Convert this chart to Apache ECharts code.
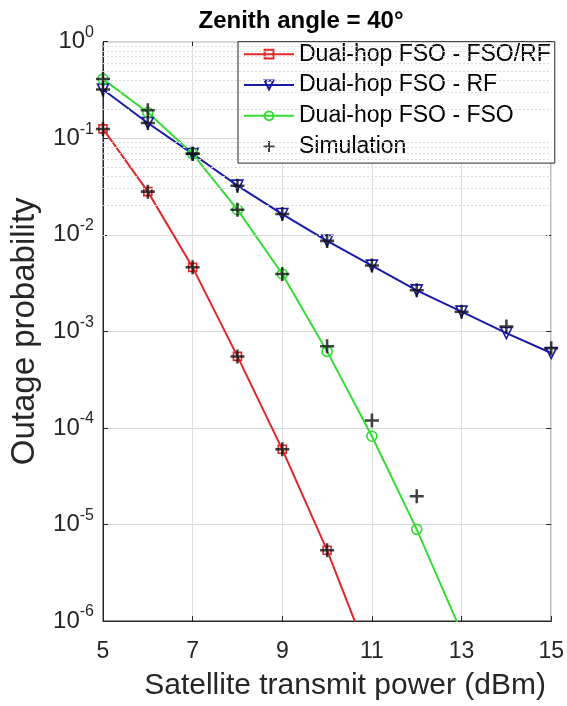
<!DOCTYPE html>
<html><head><meta charset="utf-8">
<script src="https://cdn.jsdelivr.net/npm/echarts@6/dist/echarts.min.js"></script>
<style>html,body{margin:0;padding:0;background:#fff}#c{width:567px;height:706px}</style>
</head><body><div id="c"></div>
<script>
// ---- data ----
const xTicks = [5, 7, 9, 11, 13, 15];
const yTicks = [1e-6, 1e-5, 1e-4, 1e-3, 1e-2, 1e-1, 1];
const seriesNames = ['Dual-hop FSO - FSO/RF', 'Dual-hop FSO - RF', 'Dual-hop FSO - FSO', 'Simulation'];

const xFsoRf = [5, 6, 7, 8, 9, 10, 11];
const yFsoRf = [0.125, 0.028, 0.0046, 0.00055, 6.0e-5, 5.4e-6, 3.5e-7];

const xRf = [5, 6, 7, 8, 9, 10, 11, 12, 13, 14, 15];
const yRf = [0.32, 0.144, 0.069, 0.0323, 0.0164, 0.00865, 0.0048, 0.00266, 0.0016, 0.00096, 0.000597];

const xFso = [5, 6, 7, 8, 9, 10, 11, 12, 13];
const yFso = [0.41, 0.185, 0.069, 0.0182, 0.00393, 6.2e-4, 8.2e-5, 8.9e-6, 7.6e-7];

const xSimFsoRf = [5, 6, 7, 8, 9, 10];
const ySimFsoRf = [0.125, 0.028, 0.0046, 0.00055, 6.0e-5, 5.4e-6];
const xSimRf = [5, 6, 7, 8, 9, 10, 11, 12, 13, 14, 15];
const ySimRf = [0.32, 0.144, 0.069, 0.0323, 0.0164, 0.00865, 0.0048, 0.00266, 0.0016, 0.00112, 0.00067];
const xSimFso = [5, 6, 7, 8, 9, 10, 11, 12];
const ySimFso = [0.41, 0.195, 0.069, 0.0182, 0.00393, 7.0e-4, 1.19e-4, 1.96e-5];

// ---- helpers ----
const zip = (xs, ys) => xs.map((x, i) => [x, ys[i]]);
const minorLines = [];
for (let i = 0; i < yTicks.length - 1; i++) {
  for (let m = 2; m <= 9; m++) minorLines.push({ yAxis: yTicks[i] * m });
}
const FONT = '"Liberation Sans", Arial, Helvetica, sans-serif';
const AX = '#262626';
const RED = '#e0282a', BLUE = '#1a1aa8', GREEN = '#35dc35';
const PLUS = 'path://M4.1,0H5.9V4.1H10V5.9H5.9V10H4.1V5.9H0V4.1H4.1Z';

const chart = echarts.init(document.getElementById('c'), null, { renderer: 'canvas' });

function lineSeries(name, xs, ys, color, symbol, size, rotate) {
  return {
    name, type: 'line', data: zip(xs, ys), clip: true,
    symbol, symbolSize: size, symbolRotate: rotate || 0,
    showAllSymbol: true,
    lineStyle: { color, width: 2 },
    itemStyle: { color: 'rgba(0,0,0,0)', borderColor: color, borderWidth: 1.6 },
    emphasis: { disabled: true }, z: 3
  };
}
function simSeries(xs, ys) {
  return {
    name: 'Simulation', type: 'scatter', data: zip(xs, ys), clip: true,
    symbol: PLUS, symbolSize: 14, symbolKeepAspect: true,
    itemStyle: { color: '#111' }, emphasis: { disabled: true }, z: 5
  };
}

const supLabel = v => {
  const e = Math.round(Math.log10(v));
  return '{b|10}{s|' + e + '}';
};

chart.setOption({
  animation: false,
  backgroundColor: '#fff',
  textStyle: { fontFamily: FONT },
  title: {
    text: 'Zenith angle = 40\u00b0',
    left: 296, top: 4, textAlign: 'center',
    textStyle: { fontFamily: FONT, fontSize: 24, fontWeight: 'bold', color: '#000' }
  },
  grid: {
    left: 101.7, right: 12.4, top: 41.7, bottom: 78,
    show: true, borderColor: AX, borderWidth: 1, backgroundColor: 'rgba(0,0,0,0)'
  },
  legend: {
    data: seriesNames,
    orient: 'vertical',
    left: 238, top: 41.7,
    padding: [1, 4, 5, 5],
    itemWidth: 50, itemHeight: 11, itemGap: 7.8,
    backgroundColor: '#fff', borderColor: AX, borderWidth: 1,
    textStyle: { fontFamily: FONT, fontSize: 23, color: '#000', lineHeight: 22 },
    selectedMode: false
  },
  xAxis: [{
    type: 'value', min: 5, max: 15, interval: 2,
    name: 'Satellite transmit power (dBm)', nameLocation: 'middle', nameGap: 50,
    nameTextStyle: { fontFamily: FONT, fontSize: 30, color: '#262626', padding: [0, 0, 0, 36] },
    axisLine: { show: true, lineStyle: { color: AX, width: 1 } },
    axisTick: { show: true, inside: true, length: 5, lineStyle: { color: AX } },
    axisLabel: { fontFamily: FONT, fontSize: 23, color: '#262626', margin: 19,
      customValues: xTicks, formatter: v => String(v) },
    splitLine: { show: true, lineStyle: { color: '#dedede', width: 1 } }
  }, {
    type: 'value', min: 5, max: 15, interval: 2, position: 'top',
    axisLine: { show: false },
    axisTick: { show: true, inside: true, length: 5, lineStyle: { color: AX } },
    axisLabel: { show: false }, splitLine: { show: false }
  }],
  yAxis: [{
    type: 'log', logBase: 10, min: 1e-6, max: 1, splitNumber: 6,
    name: 'Outage probability', nameLocation: 'middle', nameGap: 62,
    nameTextStyle: { fontFamily: FONT, fontSize: 33, color: '#262626' },
    axisLine: { show: true, lineStyle: { color: AX, width: 1 } },
    axisTick: { show: true, inside: true, length: 5, lineStyle: { color: AX } },
    axisLabel: {
      margin: 9, formatter: supLabel, color: '#262626',
      rich: {
        b: { fontFamily: FONT, fontSize: 24, color: '#262626', lineHeight: 34 },
        s: { fontFamily: FONT, fontSize: 16, color: '#262626', verticalAlign: 'top' }
      }
    },
    splitLine: { show: true, lineStyle: { color: '#d6d6d6', width: 1 } }
  }, {
    type: 'log', logBase: 10, min: 1e-6, max: 1, splitNumber: 6, position: 'right',
    axisLine: { show: false },
    axisTick: { show: true, inside: true, length: 5, lineStyle: { color: AX } },
    axisLabel: { show: false }, splitLine: { show: false }
  }],
  series: [
    {
      name: 'minor', type: 'line', data: [], silent: true,
      markLine: {
        silent: true, symbol: 'none', animation: false,
        label: { show: false },
        lineStyle: { color: '#dcdcdc', type: [2, 2], width: 1 },
        emphasis: { disabled: true },
        data: minorLines
      }, z: 1
    },
    lineSeries(seriesNames[0], xFsoRf, yFsoRf, RED, 'rect', 8),
    lineSeries(seriesNames[1], xRf, yRf, BLUE, 'triangle', 11, 180),
    lineSeries(seriesNames[2], xFso, yFso, GREEN, 'circle', 10),
    simSeries(xSimFsoRf, ySimFsoRf),
    simSeries(xSimRf, ySimRf),
    simSeries(xSimFso, ySimFso)
  ]
});
</script></body></html>
